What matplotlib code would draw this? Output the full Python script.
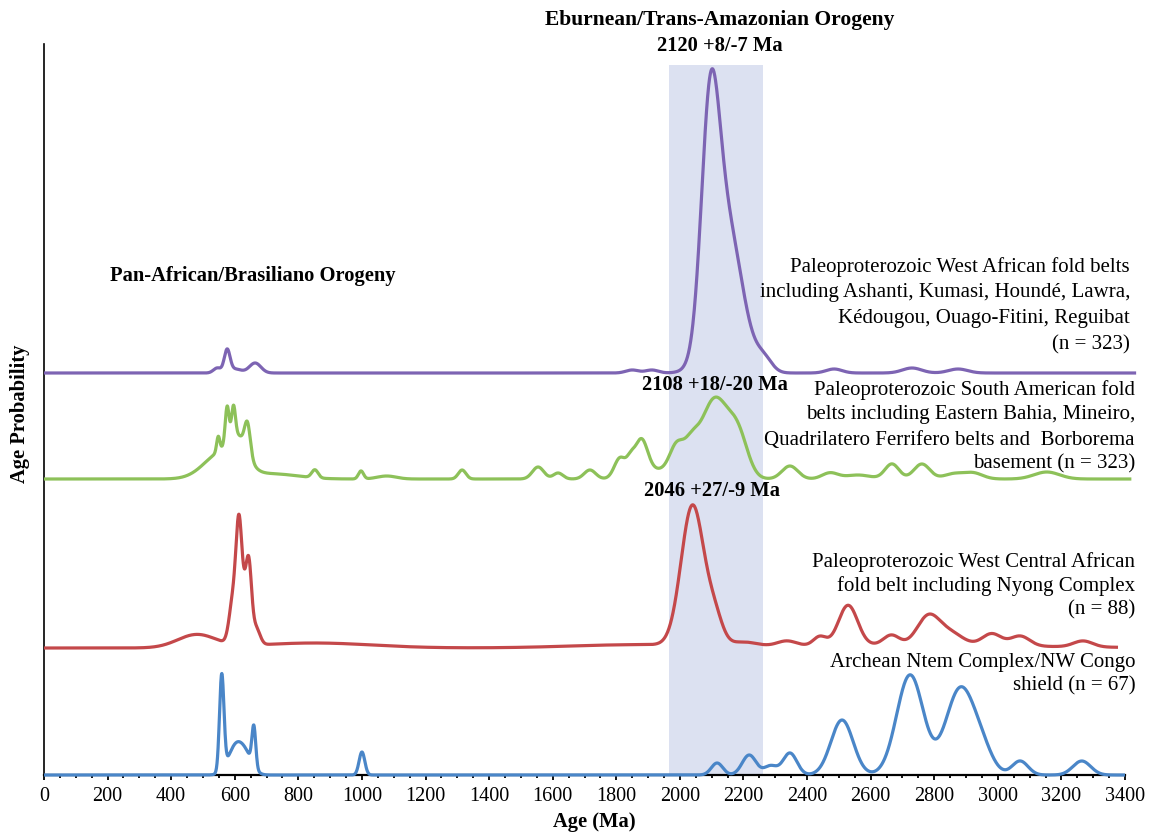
import numpy as np
import matplotlib
matplotlib.use("Agg")
import matplotlib.pyplot as plt
from matplotlib.ticker import MultipleLocator

plt.rcParams['font.family'] = ['Liberation Serif', 'DejaVu Serif']

# ---- data: age-probability components (age Ma, sigma Ma, height) ----
purple_ages    = [545, 576, 600, 664, 1850, 1912, 2095, 2145, 2265, 2485, 2730, 2875]
purple_sigmas  = [12,  9,   20,  18,  20,   20,   28,   50,   25,   25,   30,   30]
purple_heights = [5,   22,  4,   10,  3,    3,    207,  150,  12,   4,    5,    4]
purple_offset = 402
purple_end = 3435

green_ages    = [560, 548, 576, 596, 640, 612, 720, 852, 997, 1078, 1315, 1554, 1617, 1717,
                 1812, 1845, 1878, 1930, 1990, 2035, 2110, 2185, 2346, 2472, 2560, 2667,
                 2761, 2860, 2922, 3154]
green_sigmas  = [55,  5,   6,   6,   9,   28,  80,  10,  8,   30,   12,   18,   15,   18,
                 18,  12,  20,  60,  22,  22,  45,  30,  25,  25,  40,  22,
                 25,  30,  30,  40]
green_heights = [26,  15,  36,  30,  30,  25,  5,   8,   8,   3,    9,    12,   6,    9,
                 20,  12,  34,  9,   27,  22,  80,  35,  13,  6,   4,   15,
                 15,  5,   6,   7]
green_offset = 296
green_end = 3420

red_ages    = [480, 595, 613, 635, 645, 668, 850, 1850, 2040, 2110, 2200, 2336, 2440, 2529,
               2665, 2700, 2781, 2850, 2981, 3070, 3268]
red_sigmas  = [60,  12,  9,   14,  8,   12,  180, 200,  36,   25,   40,   30,   20,   30,
               25,  400, 35,  40,  30,  30,  30]
red_heights = [13,  45,  100, 55,  42,  15,  5,   3,    140,  25,   4,    5,    9,    40,
               10,  3,   28,  12,  12,  10,  6]
red_offset = 127
red_end = 3378

blue_ages    = [559, 605, 640, 660, 1000, 2117, 2218, 2285, 2346, 2510, 2724, 2881, 2950, 3070, 3264]
blue_sigmas  = [7,   25,  20,  6,   9,    18,   22,   20,   22,   35,   42,   45,   35,   25,   28]
blue_heights = [96,  30,  12,  40,  23,   12,   20,   9,    22,   55,   100,  85,   20,   14,   14]
blue_offset = 0
blue_end = 3400

band_range = (1965, 2260)
x_ticks = list(range(0, 3401, 200))

purple_label = ["Paleoproterozoic West African fold belts",
                "including Ashanti, Kumasi, Houndé, Lawra,",
                "Kédougou, Ouago-Fitini, Reguibat",
                "(n = 323)"]
green_label = ["Paleoproterozoic South American fold",
               "belts including Eastern Bahia, Mineiro,",
               "Quadrilatero Ferrifero belts and  Borborema",
               "basement (n = 323)"]
red_label = ["Paleoproterozoic West Central African",
             "fold belt including Nyong Complex",
             "(n = 88)"]
blue_label = ["Archean Ntem Complex/NW Congo",
              "shield (n = 67)"]


def prob_curve(x, ages, sigmas, heights):
    y = np.zeros_like(x, dtype=float)
    for a, s, h in zip(ages, sigmas, heights):
        y += h * np.exp(-0.5 * ((x - a) / s) ** 2)
    return y


W, H = 1149, 834
fig = plt.figure(figsize=(W / 100, H / 100), dpi=100)
L, R, T, B = 44, 1125, 44, 775
ax = fig.add_axes([L / W, 1 - B / H, (R - L) / W, (B - T) / H])
ax.set_xlim(0, 3400)
ax.set_ylim(0, B - T)

# shaded band
ax.fill_between(band_range, 0, 710, color='#DCE1F1', lw=0, zorder=0)

series = [
    (purple_ages, purple_sigmas, purple_heights, purple_offset, purple_end, '#7D64B3'),
    (green_ages, green_sigmas, green_heights, green_offset, green_end, '#8DC159'),
    (red_ages, red_sigmas, red_heights, red_offset, red_end, '#C4484A'),
    (blue_ages, blue_sigmas, blue_heights, blue_offset, blue_end, '#4A86C8'),
]
for ages, sig, hts, off, end, col in series:
    xs = np.linspace(0, end, 4000)
    ys = off + prob_curve(xs, ages, sig, hts)
    ax.plot(xs, ys, color=col, lw=2.3, solid_capstyle='butt', clip_on=False, zorder=3)

# axes styling
for s in ['top', 'right']:
    ax.spines[s].set_visible(False)
ax.spines['left'].set_linewidth(1.2)
ax.spines['bottom'].set_linewidth(1.6)
ax.set_yticks([])
ax.set_xticks(x_ticks)
ax.xaxis.set_minor_locator(MultipleLocator(50))
ax.tick_params(axis='x', which='major', direction='out', length=3.8, width=1.3,
               labelsize=14.5, pad=5)
ax.tick_params(axis='x', which='minor', direction='out', length=2.3, width=1.3)

fig.text(594 / W, 1 - 822 / H, "Age (Ma)", fontsize=14.8, fontweight='bold',
         ha='center', va='center')
fig.text(20 / W, 1 - 414 / H, "Age Probability", fontsize=14.8, fontweight='bold',
         ha='center', va='center', rotation=90)


def px2x(px):
    return (px - L) * 3400 / (R - L)


def py2y(py):
    return B - py


bold = dict(fontsize=14.8, fontweight='bold', ha='center', va='center', clip_on=False)
ax.text(px2x(720), py2y(20), "Eburnean/Trans-Amazonian Orogeny", fontsize=15.5,
        fontweight='bold', ha='center', va='center', clip_on=False)
ax.text(px2x(720), py2y(46), "2120 +8/-7 Ma", **bold)
ax.text(px2x(253), py2y(276), "Pan-African/Brasiliano Orogeny", **bold)
ax.text(px2x(715), py2y(385), "2108 +18/-20 Ma", **bold)
ax.text(px2x(712), py2y(491), "2046 +27/-9 Ma", **bold)

reg = dict(fontsize=15, ha='right', va='center', clip_on=False)
for lines, right_px, ys_px in [
    (purple_label, 1130, [267, 293, 319, 345]),
    (green_label, 1135, [390, 415, 440, 464]),
    (red_label, 1135, [562, 586, 610]),
    (blue_label, 1136, [662, 686]),
]:
    for line, py in zip(lines, ys_px):
        ax.text(px2x(right_px), py2y(py), line, **reg)

fig.savefig("out.png", dpi=100)
